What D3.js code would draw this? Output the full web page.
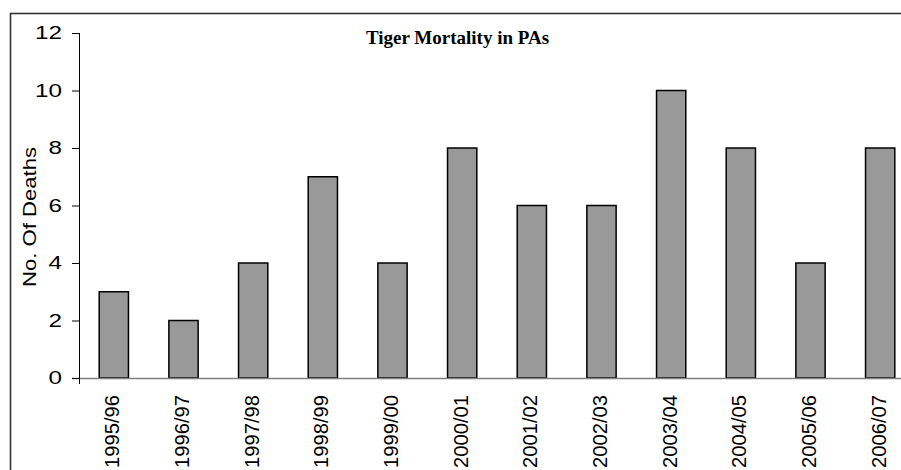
<!DOCTYPE html>
<html>
<head>
<meta charset="utf-8">
<script src="https://cdn.jsdelivr.net/npm/d3@7"></script>
<style>
  body { margin: 0; background: #fff; }
  svg { display: block; }
</style>
</head>
<body>
<svg width="901" height="470"></svg>
<script>
var years = ["1995/96", "1996/97", "1997/98", "1998/99", "1999/00", "2000/01",
             "2001/02", "2002/03", "2003/04", "2004/05", "2005/06", "2006/07"];
var deaths = [3, 2, 4, 7, 4, 8, 6, 6, 10, 8, 4, 8];
var yTicks = [0, 2, 4, 6, 8, 10, 12];

var data = years.map(function(y, i) { return {year: y, value: deaths[i]}; });

var svg = d3.select("svg"),
    margin = {top: 33, left: 79},
    width = 836,
    height = 345,
    g = svg.append("g").attr("transform", "translate(" + margin.left + "," + margin.top + ")");

var sans = "Liberation Sans, Arial, sans-serif";

// outer frame (runs off the right and bottom of the picture)
svg.append("rect")
    .attr("x", 10.5)
    .attr("y", 13.5)
    .attr("width", 1000)
    .attr("height", 1000)
    .attr("fill", "none")
    .attr("stroke", "#333")
    .attr("stroke-width", 1.6);

var x = d3.scaleBand()
    .domain(years)
    .range([0, width])
    .paddingInner(0.58)
    .paddingOuter(0.29);
var y = d3.scaleLinear()
    .domain([0, 12])
    .range([height, 0]);

g.selectAll(".bar")
  .data(data)
  .enter().append("rect")
    .attr("class", "bar")
    .attr("x", function(d) { return x(d.year); })
    .attr("y", function(d) { return y(d.value); })
    .attr("width", x.bandwidth())
    .attr("height", function(d) { return height - y(d.value); })
    .attr("fill", "#999999")
    .attr("stroke", "#000")
    .attr("stroke-width", 1.5);

// x axis: grey baseline, no ticks
var xAxis = g.append("g")
    .attr("transform", "translate(0," + height + ")")
    .call(d3.axisBottom(x).tickSize(0).tickPadding(0));
xAxis.select(".domain").remove();
g.append("line")
    .attr("x1", -7).attr("x2", width)
    .attr("y1", height + 0.5).attr("y2", height + 0.5)
    .attr("stroke", "#808080")
    .attr("stroke-width", 1.5);
xAxis.selectAll("text")
    .attr("font-family", sans)
    .attr("font-size", 21)
    .attr("fill", "#000")
    .attr("transform", "rotate(-90)")
    .attr("text-anchor", "end")
    .attr("x", -17)
    .attr("y", 0)
    .attr("dy", "0.26em")
    .attr("textLength", 73)
    .attr("lengthAdjust", "spacingAndGlyphs");

var yAxis = g.append("g")
    .call(d3.axisLeft(y).tickValues(yTicks).tickSize(7).tickPadding(10).tickSizeOuter(0));
yAxis.select(".domain").remove();
g.append("line")
    .attr("x1", 0.5).attr("x2", 0.5)
    .attr("y1", 0).attr("y2", height + 6)
    .attr("stroke", "#000");
yAxis.selectAll(".tick line").attr("stroke", "#000");
yAxis.selectAll("text")
    .attr("font-family", sans)
    .attr("font-size", 18)
    .attr("fill", "#000")
    .attr("textLength", function(d) { return String(d).length * 13.5; })
    .attr("lengthAdjust", "spacingAndGlyphs");

// y-axis title
svg.append("text")
    .attr("transform", "translate(36,217) rotate(-90)")
    .attr("text-anchor", "middle")
    .attr("font-family", sans)
    .attr("font-size", 18)
    .attr("fill", "#000")
    .attr("textLength", 140)
    .attr("lengthAdjust", "spacingAndGlyphs")
    .text("No. Of Deaths");

// chart title
svg.append("text")
    .attr("x", 457.5)
    .attr("y", 44)
    .attr("text-anchor", "middle")
    .attr("font-family", "Liberation Serif, Times New Roman, serif")
    .attr("font-weight", "bold")
    .attr("font-size", 19)
    .attr("fill", "#000")
    .text("Tiger Mortality in PAs");
</script>
</body>
</html>
